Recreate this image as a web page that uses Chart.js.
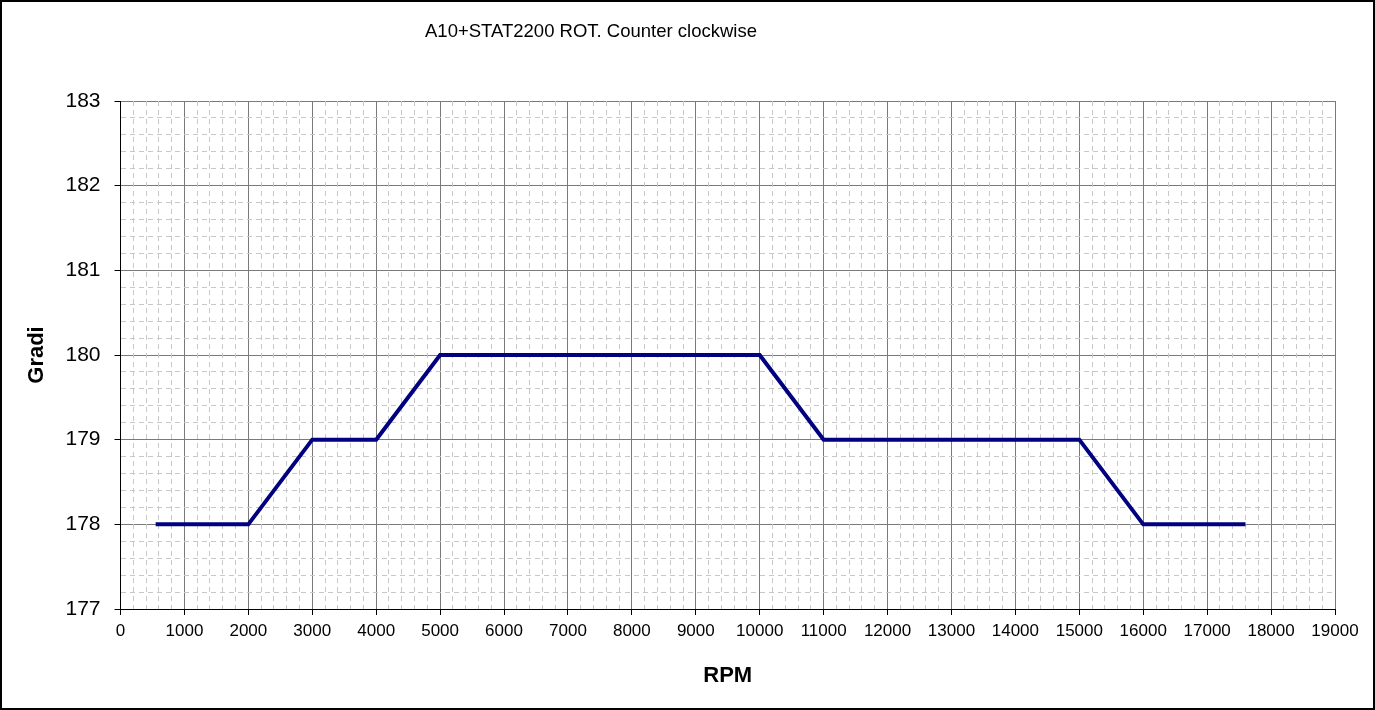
<!DOCTYPE html>
<html>
<head>
<meta charset="utf-8">
<script src="https://cdn.jsdelivr.net/npm/chart.js@4.4.0/dist/chart.umd.min.js"></script>
<style>
  html, body { margin: 0; padding: 0; background: #fff; }
  #wrap { width: 1375px; height: 710px; position: relative; }
</style>
</head>
<body>
<div id="wrap"><canvas id="myChart"></canvas></div>
<script>
// dati
const chartTitle = 'A10+STAT2200 ROT. Counter clockwise';
const rpm = [550, 1000, 2000, 3000, 4000, 5000, 6000, 7000, 8000, 9000, 10000, 11000, 12000, 13000, 14000, 15000, 16000, 17000, 17600];
const gradi = [178, 178, 178, 179, 179, 180, 180, 180, 180, 180, 180, 179, 179, 179, 179, 179, 178, 178, 178];
const xTicks = { min: 0, max: 19000, step: 1000, minor: 200 };
const yTicks = { min: 177, max: 183, step: 1, minor: 0.2 };

const points = rpm.map((x, i) => ({ x: x, y: gradi[i] }));

// sfondo, cornice e titolo (titolo non centrato come nell'originale)
const framePlugin = {
  id: 'frame',
  beforeDraw(chart) {
    const ctx = chart.ctx;
    ctx.save();
    ctx.fillStyle = '#fff';
    ctx.fillRect(0, 0, chart.width, chart.height);
    ctx.restore();
  },
  afterDraw(chart) {
    const ctx = chart.ctx;
    ctx.save();
    ctx.strokeStyle = '#000';
    ctx.lineWidth = 2;
    ctx.strokeRect(1, 1, chart.width - 2, chart.height - 2);
    ctx.fillStyle = '#000';
    ctx.font = '18.5px "Liberation Sans", Arial, sans-serif';
    ctx.textAlign = 'center';
    ctx.textBaseline = 'middle';
    ctx.fillText(chartTitle, 591, 32);
    ctx.restore();
  }
};

const isMajor = (v, step) => Math.abs(v / step - Math.round(v / step)) < 1e-6;

const ctx = document.getElementById('myChart').getContext('2d');
new Chart(ctx, {
  type: 'scatter',
  data: {
    datasets: [{
      label: 'Gradi',
      data: points,
      showLine: true,
      borderColor: '#000080',
      backgroundColor: '#000080',
      borderWidth: 4,
      pointRadius: 0,
      tension: 0
    }]
  },
  options: {
    responsive: true,
    maintainAspectRatio: false,
    animation: false,
    layout: { padding: { top: 101, right: 40, bottom: 0, left: 0 } },
    plugins: {
      legend: { display: false },
      tooltip: { enabled: false }
    },
    scales: {
      x: {
        type: 'linear',
        position: 'bottom',
        min: xTicks.min,
        max: xTicks.max,
        afterFit: (scale) => { scale.height = 101; },
        ticks: {
          stepSize: xTicks.step,
          autoSkip: false,
          maxRotation: 0,
          padding: 6,
          color: '#000',
          callback: (v) => String(v),
          font: { family: '"Liberation Sans", Arial, sans-serif', size: 17 }
        },
        grid: { color: '#7a7a7a', lineWidth: 1, tickLength: 6, tickColor: '#000' },
        border: { color: '#000', width: 1 },
        title: {
          display: true,
          text: 'RPM',
          color: '#000',
          padding: { top: 0, bottom: 21 },
          font: { family: '"Liberation Sans", Arial, sans-serif', size: 22, weight: 'bold' }
        }
      },
      y: {
        type: 'linear',
        position: 'left',
        min: yTicks.min,
        max: yTicks.max,
        afterFit: (scale) => { scale.width = 120.5; },
        ticks: {
          stepSize: yTicks.step,
          padding: 14,
          color: '#000',
          callback: (v) => String(v),
          font: { family: '"Liberation Sans", Arial, sans-serif', size: 21 }
        },
        grid: { color: '#7a7a7a', lineWidth: 1, tickLength: 6, tickColor: '#000' },
        border: { color: '#000', width: 1 },
        title: {
          display: true,
          text: 'Gradi',
          color: '#000',
          padding: { top: 24, bottom: 0 },
          font: { family: '"Liberation Sans", Arial, sans-serif', size: 22, weight: 'bold' }
        }
      },
      xm: {
        type: 'linear',
        position: 'bottom',
        min: xTicks.min,
        max: xTicks.max,
        ticks: { display: false, stepSize: xTicks.minor },
        grid: {
          drawTicks: false,
          lineWidth: 1,
          color: (c) => isMajor(c.tick.value, xTicks.step) ? 'rgba(0,0,0,0)' : '#c8c8c8'
        },
        border: { display: false, dash: [5, 4] }
      },
      ym: {
        type: 'linear',
        position: 'left',
        min: yTicks.min,
        max: yTicks.max,
        ticks: { display: false, stepSize: yTicks.minor },
        grid: {
          drawTicks: false,
          lineWidth: 1,
          color: (c) => isMajor(c.tick.value - yTicks.min, yTicks.step) ? 'rgba(0,0,0,0)' : '#c8c8c8'
        },
        border: { display: false, dash: [5, 4] }
      }
    }
  },
  plugins: [framePlugin]
});
</script>
</body>
</html>
